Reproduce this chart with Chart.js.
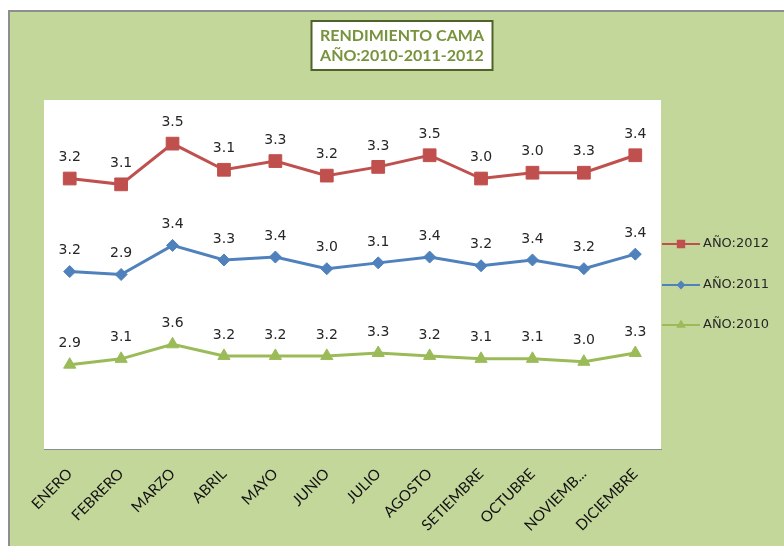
<!DOCTYPE html>
<html>
<head>
<meta charset="utf-8">
<title>Rendimiento cama</title>
<script src="https://cdn.jsdelivr.net/npm/chart.js@4.4.1/dist/chart.umd.min.js"></script>
<style>
  html, body { margin: 0; padding: 0; background: #ffffff; }
  #marco {
    position: absolute; left: 8px; top: 10px; width: 774px; height: 534px;
    border-left: 2px solid #8e8e8e; border-top: 2px solid #8e8e8e;
    background: #c4d79b;
  }
  #grafico { display: block; }
</style>
</head>
<body>
<div id="marco"><canvas id="grafico" width="774" height="534"></canvas></div>
<script>
// Datos
const meses = ["ENERO", "FEBRERO", "MARZO", "ABRIL", "MAYO", "JUNIO", "JULIO",
  "AGOSTO", "SETIEMBRE", "OCTUBRE", "NOVIEMB...", "DICIEMBRE"];
const valores2010 = [2.9, 3.1, 3.6, 3.2, 3.2, 3.2, 3.3, 3.2, 3.1, 3.1, 3.0, 3.3];
const valores2011 = [3.2, 2.9, 3.4, 3.3, 3.4, 3.0, 3.1, 3.4, 3.2, 3.4, 3.2, 3.4];
const valores2012 = [3.2, 3.1, 3.5, 3.1, 3.3, 3.2, 3.3, 3.5, 3.0, 3.0, 3.3, 3.4];
const tituloLineas = ["RENDIMIENTO CAMA", "AÑO:2010-2011-2012"];

const serie = (label, data, color, pointStyle, radius) => ({
  label,
  data,
  borderColor: color,
  backgroundColor: color,
  borderWidth: 3,
  pointStyle,
  pointRadius: radius,
  pointHoverRadius: radius,
  pointBorderWidth: 1,
  fill: false,
  tension: 0,
});

// Etiquetas, leyenda y título dibujados a mano (sin plugins externos)
const decorado = {
  id: "decorado",
  beforeDraw(chart) {
    const { ctx, chartArea } = chart;
    ctx.save();
    ctx.fillStyle = "#ffffff";
    ctx.fillRect(chartArea.left, chartArea.top, chartArea.right - chartArea.left, chartArea.bottom - chartArea.top);

    // título en recuadro
    const cx = 392, top = 9, w = 181, h = 49;
    ctx.fillStyle = "#ffffff";
    ctx.fillRect(cx - w / 2, top, w, h);
    ctx.strokeStyle = "#4f6228";
    ctx.lineWidth = 2;
    ctx.strokeRect(cx - w / 2, top, w, h);
    ctx.fillStyle = "#77933c";
    ctx.font = "bold 16px Lato";
    ctx.textAlign = "center";
    ctx.textBaseline = "middle";
    ctx.fillText(tituloLineas[0], cx, top + 15);
    ctx.fillText(tituloLineas[1], cx, top + 35);
    ctx.restore();
  },
  afterDatasetsDraw(chart) {
    const { ctx } = chart;
    ctx.save();
    ctx.font = "14px 'DejaVu Sans'";
    ctx.fillStyle = "#262626";
    ctx.textAlign = "center";
    ctx.textBaseline = "middle";
    chart.data.datasets.forEach((ds, i) => {
      chart.getDatasetMeta(i).data.forEach((pt, j) => {
        ctx.fillText(ds.data[j].toFixed(1), pt.x, pt.y - 21);
      });
    });

    // leyenda (orden inverso: 2012 arriba)
    const x0 = chart.chartArea.right + 1;
    const filas = [232, 273, 313];
    const orden = chart.data.datasets.map((d, i) => i).reverse();
    orden.forEach((idx, k) => {
      const ds = chart.data.datasets[idx];
      const y = filas[k];
      ctx.strokeStyle = ds.borderColor;
      ctx.lineWidth = 2;
      ctx.beginPath();
      ctx.moveTo(x0, y);
      ctx.lineTo(x0 + 38, y);
      ctx.stroke();
      ctx.fillStyle = ds.backgroundColor;
      Chart.helpers.drawPoint(ctx, { pointStyle: ds.pointStyle, radius: ds.pointRadius * 0.5, rotation: 0, borderWidth: 1 }, x0 + 19, y);
      ctx.fillStyle = "#262626";
      ctx.font = "13px 'DejaVu Sans'";
      ctx.textAlign = "left";
      ctx.fillText(ds.label, x0 + 41, y);
    });
    ctx.restore();
  },
};

new Chart(document.getElementById("grafico"), {
  type: "line",
  data: {
    labels: meses,
    datasets: [
      serie("AÑO:2010", valores2010, "#9bbb59", "triangle", 7),
      serie("AÑO:2011", valores2011, "#4f81bd", "rectRot", 6),
      serie("AÑO:2012", valores2012, "#c0504d", "rect", 9),
    ],
  },
  options: {
    responsive: false,
    animation: false,
    layout: { padding: { left: 34, right: 123, top: 88, bottom: 0 } },
    plugins: {
      legend: { display: false },
      title: { display: false },
      tooltip: { enabled: false },
    },
    scales: {
      y: { stacked: true, display: false, min: 0, max: 12 },
      x: {
        offset: true,
        grid: { display: false, drawTicks: false },
        border: { display: true, color: "#8c8c8c", width: 1 },
        ticks: {
          autoSkip: false,
          maxRotation: 45,
          minRotation: 45,
          padding: 16,
          color: "#111111",
          font: { family: "Lato", size: 15 },
        },
        afterFit: (scale) => { scale.height = 97; },
      },
    },
  },
  plugins: [decorado],
});
</script>
</body>
</html>
